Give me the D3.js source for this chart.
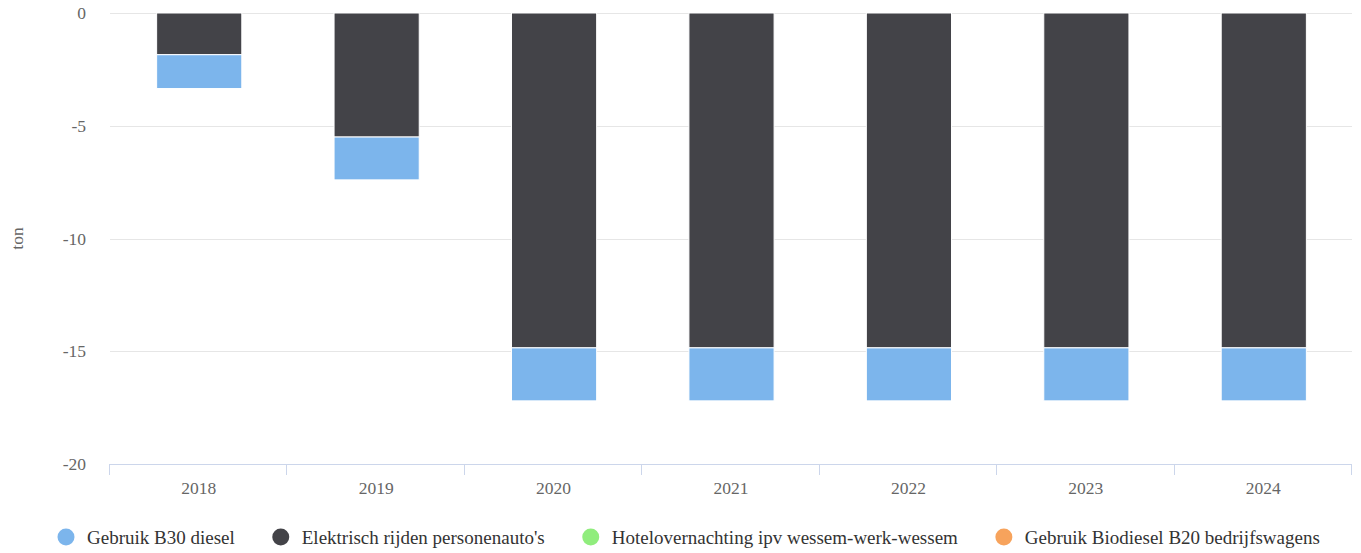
<!DOCTYPE html>
<html><head><meta charset="utf-8">
<script src="https://cdn.jsdelivr.net/npm/d3@7"></script>
<style>body{margin:0;background:#fff;} svg{display:block;font-family:"Liberation Serif","Times New Roman",serif;}</style>
</head><body><svg id="c" width="1361" height="553"></svg>
<script>
const categories = ["2018","2019","2020","2021","2022","2023","2024"];
const seriesNames = ["Gebruik B30 diesel","Elektrisch rijden personenauto's","Hotelovernachting ipv wessem-werk-wessem","Gebruik Biodiesel B20 bedrijfswagens"];
const seriesColors = ["#7cb5ec","#434348","#90ed7d","#f7a35c"];
const b30 = [-1.5,-1.9,-2.35,-2.35,-2.35,-2.35,-2.35];
const elektrisch = [-1.85,-5.5,-14.85,-14.85,-14.85,-14.85,-14.85];
const hotel = [0,0,0,0,0,0,0];
const biodiesel = [0,0,0,0,0,0,0];
const yTicks = [0,-5,-10,-15,-20];
const yTitle = "ton";

const svg = d3.select("#c");
const L=110,R=1352,T=13,B=464;
const x = d3.scaleBand().domain(categories).range([L,R]).paddingInner(0.52).paddingOuter(0.26);
const xb = d3.scaleBand().domain(categories).range([L,R]);
const y = d3.scaleLinear().domain([-20,0]).range([B,T]);

svg.append("g").selectAll("line").data(yTicks).join("line")
  .attr("x1",L).attr("x2",R).attr("y1",d=>Math.round(y(d))+0.5).attr("y2",d=>Math.round(y(d))+0.5)
  .attr("stroke","#e6e6e6");

svg.append("g").selectAll("text").data(yTicks).join("text")
  .attr("x",86).attr("y",d=>y(d)+6).attr("text-anchor","end")
  .attr("fill","#666").attr("font-size",17.5).text(d=>String(d));

svg.append("text").attr("transform",`translate(23,${(T+B)/2}) rotate(-90)`)
  .attr("text-anchor","middle").attr("fill","#666").attr("font-size",17.5).text(yTitle);

const data = [b30,elektrisch,hotel,biodiesel];
categories.forEach((c,i)=>{
  let acc=0;
  for(let s=data.length-1;s>=0;s--){
    const v=data[s][i];
    if(!v) continue;
    const y0=acc, y1=acc+v; acc=y1;
    svg.append("rect").attr("x",x(c)+0.5).attr("width",x.bandwidth())
      .attr("y",y(y0)).attr("height",y(y1)-y(y0))
      .attr("fill",seriesColors[s]).attr("stroke","#fff").attr("stroke-width",1);
  }
});

const ax = svg.append("g");
ax.append("line").attr("x1",L).attr("x2",R).attr("y1",B+0.5).attr("y2",B+0.5).attr("stroke","#ccd6eb");
const bounds = categories.map(c=>xb(c)).concat([R]);
ax.selectAll("line.t").data(bounds).join("line").attr("class","t")
  .attr("x1",d=>Math.round(d)-0.5).attr("x2",d=>Math.round(d)-0.5).attr("y1",B).attr("y2",B+11).attr("stroke","#ccd6eb");
ax.selectAll("text").data(categories).join("text")
  .attr("x",d=>xb(d)+xb.bandwidth()/2).attr("y",494).attr("text-anchor","middle")
  .attr("fill","#666").attr("font-size",17.5).text(d=>d);

const lg = svg.append("g");
let lx=58;
seriesNames.forEach((n,i)=>{
  lg.append("circle").attr("cx",lx+8).attr("cy",537).attr("r",8.5).attr("fill",seriesColors[i]);
  const t=lg.append("text").attr("x",lx+29).attr("y",543.5).attr("fill","#333").attr("font-size",19).text(n);
  const w=t.node().getComputedTextLength();
  lx = lx+29+w+38;
});
</script></body></html>
